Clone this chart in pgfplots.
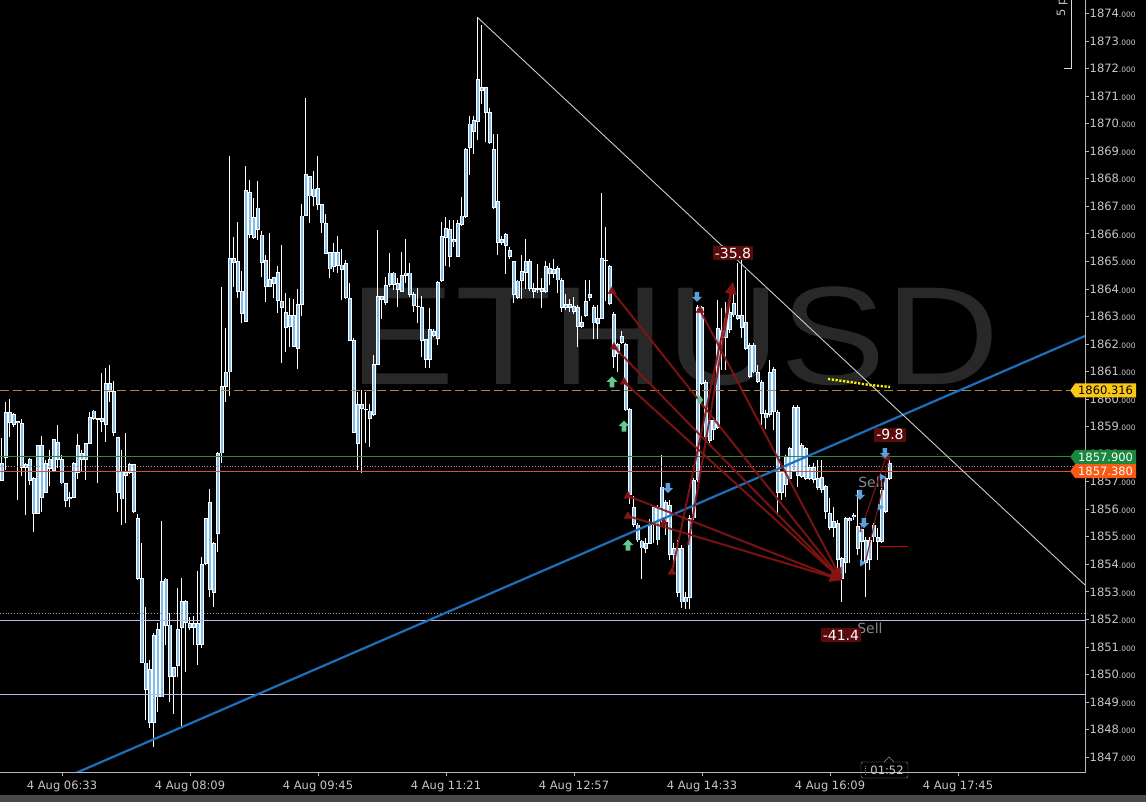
\documentclass[border=0pt]{standalone}
\usepackage{pgfplots}
\pgfplotsset{compat=1.18}
\usepackage{pgfplotstable}
\usepackage{fontspec}
\setmainfont{DejaVu Sans}
\newfontfamily\wmfont{Liberation Sans}
\usetikzlibrary{shapes.symbols,arrows.meta}

\definecolor{txt}{RGB}{200,200,200}
\definecolor{axl}{RGB}{185,185,185}
\definecolor{candle}{RGB}{130,190,235}
\definecolor{wm}{RGB}{40,40,40}
\definecolor{gold}{RGB}{175,135,55}
\definecolor{lgreen}{RGB}{40,140,60}
\definecolor{lred}{RGB}{215,85,55}
\definecolor{lav}{RGB}{190,185,225}
\definecolor{trend}{RGB}{30,112,188}
\definecolor{trade}{RGB}{135,20,20}
\definecolor{lblred}{RGB}{90,10,10}
\definecolor{sigup}{RGB}{100,200,140}
\definecolor{sigdn}{RGB}{90,160,220}
\definecolor{tagyel}{RGB}{250,200,20}
\definecolor{taggrn}{RGB}{25,135,60}
\definecolor{tagorg}{RGB}{250,90,20}
\definecolor{sellgray}{RGB}{135,135,140}
\definecolor{band}{RGB}{72,72,72}

\newcommand{\ticfont}{\fontsize{11.5}{13}\selectfont}
\newcommand{\lblfont}{\fontsize{14}{16}\selectfont}

% MT-style signal arrow (pointing up)
\pgfdeclareplotmark{arrup}{%
  \pgfpathmoveto{\pgfpoint{0pt}{\pgfplotmarksize}}%
  \pgfpathlineto{\pgfpoint{\pgfplotmarksize}{0pt}}%
  \pgfpathlineto{\pgfpoint{0.45\pgfplotmarksize}{0pt}}%
  \pgfpathlineto{\pgfpoint{0.45\pgfplotmarksize}{-\pgfplotmarksize}}%
  \pgfpathlineto{\pgfpoint{-0.45\pgfplotmarksize}{-\pgfplotmarksize}}%
  \pgfpathlineto{\pgfpoint{-0.45\pgfplotmarksize}{0pt}}%
  \pgfpathlineto{\pgfpoint{-\pgfplotmarksize}{0pt}}%
  \pgfpathclose\pgfusepathqfill}

\pgfplotsset{
  bar part/.style={only marks, mark=*, mark size=0pt, mark options={draw=none, fill=none}, forget plot,
    error bars/.cd, y dir=plus, y explicit, error mark=none},
  tradeline/.style={trade, opacity=0.9, line width=2pt, mark=none, solid,
    -{Triangle[length=12pt,width=11pt]}},
}

% 3-minute bars: x = bar number (0 = 06:33), hi lo, body top, body bottom
\pgfplotstableread{
x hi lo bt bb
-15 1858.59 1857.03 1857.68 1857.03
-14 1859.89 1857.42 1859.53 1857.86
-13 1860.00 1858.62 1859.53 1859.13
-12 1859.49 1858.99 1859.46 1859.09
-11 1859.20 1856.33 1859.20 1859.13
-10 1859.28 1857.21 1859.13 1857.53
-9 1857.68 1855.79 1857.64 1857.53
-8 1857.86 1856.88 1857.82 1857.03
-7 1857.17 1855.17 1857.13 1855.86
-6 1858.33 1855.86 1858.33 1855.86
-5 1858.66 1855.90 1858.30 1856.44
-4 1857.79 1856.59 1857.68 1856.59
-3 1858.15 1856.84 1857.82 1857.46
-2 1858.55 1857.42 1858.55 1857.42
-1 1859.06 1857.50 1858.44 1857.82
0 1857.97 1856.92 1857.82 1856.95
1 1856.95 1856.08 1856.95 1856.33
2 1856.62 1856.08 1856.44 1856.37
3 1857.71 1856.41 1857.68 1856.44
4 1858.73 1857.10 1858.33 1857.32
5 1858.15 1857.35 1858.04 1857.82
6 1858.40 1857.06 1858.40 1857.82
7 1859.53 1858.40 1859.35 1858.40
8 1859.60 1859.24 1859.57 1859.28
9 1859.31 1856.95 1859.28 1859.26
10 1860.95 1858.80 1859.28 1859.17
11 1861.13 1858.44 1860.58 1859.06
12 1861.24 1859.89 1860.58 1860.26
13 1860.66 1858.66 1860.26 1858.77
14 1858.62 1855.90 1858.59 1856.62
15 1858.15 1855.43 1857.39 1856.37
16 1858.77 1855.50 1857.35 1857.21
17 1857.68 1857.28 1857.61 1857.32
18 1857.61 1855.86 1857.61 1855.90
19 1855.83 1853.43 1855.68 1853.50
20 1854.77 1850.42 1853.50 1850.42
21 1852.45 1848.35 1850.42 1849.47
22 1850.53 1848.06 1850.20 1848.24
23 1851.51 1847.37 1851.43 1848.24
24 1851.87 1848.64 1851.65 1849.18
25 1855.57 1849.18 1853.39 1849.18
26 1853.50 1851.07 1853.47 1851.76
27 1852.23 1849.00 1851.80 1849.91
28 1850.27 1848.56 1850.27 1849.91
29 1853.14 1849.91 1851.65 1850.34
30 1853.50 1848.09 1852.67 1851.69
31 1852.70 1850.09 1852.67 1851.87
32 1852.09 1851.61 1851.87 1851.69
33 1852.12 1851.07 1851.87 1851.69
34 1853.76 1850.34 1851.87 1851.07
35 1854.27 1850.96 1854.01 1851.07
36 1855.68 1853.98 1855.65 1854.01
37 1856.73 1852.81 1856.23 1853.07
38 1854.81 1852.45 1854.77 1852.96
39 1858.08 1854.45 1858.04 1855.10
40 1864.07 1857.68 1860.47 1858.04
41 1862.58 1859.89 1860.95 1860.44
42 1868.83 1860.11 1865.12 1860.98
43 1865.88 1864.07 1865.12 1864.94
44 1866.43 1863.67 1864.98 1863.89
45 1864.65 1862.76 1863.92 1863.12
46 1868.46 1862.80 1867.59 1862.83
47 1867.95 1865.85 1867.52 1865.99
48 1867.30 1865.81 1866.61 1865.85
49 1867.92 1865.78 1866.94 1866.14
50 1866.10 1864.43 1865.96 1864.94
51 1865.23 1863.52 1865.05 1864.07
52 1866.03 1864.07 1864.36 1864.07
53 1864.43 1863.67 1864.43 1864.21
54 1864.83 1863.12 1864.61 1863.56
55 1865.59 1861.31 1863.56 1863.31
56 1863.85 1861.71 1863.16 1862.58
57 1863.67 1861.89 1863.05 1862.62
58 1863.63 1861.89 1863.05 1861.89
59 1864.00 1861.09 1863.45 1861.82
60 1867.08 1863.02 1866.65 1863.42
61 1870.93 1866.65 1868.14 1866.65
62 1868.10 1866.39 1868.10 1867.37
63 1868.28 1867.01 1867.63 1867.34
64 1868.83 1866.86 1867.66 1867.05
65 1867.05 1866.03 1867.05 1866.39
66 1866.72 1865.30 1866.39 1865.30
67 1865.34 1864.40 1865.34 1864.72
68 1865.67 1864.61 1865.34 1864.80
69 1865.92 1864.58 1865.34 1864.83
70 1865.45 1863.60 1864.87 1864.69
71 1865.05 1863.63 1864.94 1863.67
72 1864.21 1862.14 1863.67 1862.14
73 1862.22 1858.77 1862.14 1858.80
74 1860.26 1857.42 1859.82 1858.40
75 1860.33 1857.32 1859.82 1859.64
76 1860.26 1858.40 1859.64 1859.60
77 1859.82 1858.26 1859.57 1859.28
78 1861.60 1859.38 1861.27 1859.42
79 1866.14 1861.24 1863.71 1861.27
80 1863.74 1862.91 1863.71 1863.63
81 1864.43 1863.42 1864.11 1863.49
82 1865.30 1864.07 1864.58 1864.14
83 1864.61 1863.96 1864.58 1864.14
84 1864.40 1863.34 1864.21 1863.96
85 1865.34 1863.92 1864.50 1863.92
86 1865.81 1864.21 1864.58 1864.50
87 1864.94 1863.71 1864.58 1863.81
88 1863.89 1863.16 1863.81 1863.38
89 1864.03 1862.76 1863.38 1863.34
90 1863.74 1861.53 1863.31 1862.14
91 1862.18 1861.13 1862.18 1861.42
92 1863.31 1861.13 1862.54 1861.42
93 1862.54 1862.25 1862.47 1862.29
94 1864.29 1861.96 1864.25 1862.18
95 1866.43 1864.25 1865.92 1864.29
96 1866.61 1864.83 1866.21 1865.88
97 1866.50 1864.80 1866.17 1865.19
98 1866.50 1865.52 1865.78 1865.70
99 1866.50 1865.16 1866.36 1865.19
100 1867.34 1866.28 1866.65 1866.32
101 1869.12 1866.57 1869.08 1866.61
102 1870.28 1868.14 1869.99 1869.12
103 1870.28 1868.90 1870.10 1869.70
104 1873.87 1869.41 1871.62 1870.06
105 1873.58 1870.71 1871.30 1871.19
106 1871.33 1869.33 1871.30 1870.39
107 1870.57 1869.26 1870.39 1869.30
108 1869.62 1866.90 1869.08 1866.94
109 1869.62 1865.23 1867.19 1865.67
110 1865.92 1865.59 1865.81 1865.67
111 1866.03 1864.54 1865.99 1865.56
112 1865.52 1865.09 1865.41 1865.16
113 1865.01 1863.49 1864.98 1863.78
114 1864.32 1863.63 1864.29 1863.67
115 1865.23 1863.63 1864.65 1864.29
116 1865.81 1864.00 1865.01 1864.61
117 1865.09 1863.92 1865.01 1864.00
118 1864.21 1863.67 1864.00 1863.92
119 1864.90 1863.85 1864.00 1863.96
120 1864.40 1863.31 1864.00 1863.92
121 1865.01 1863.85 1864.80 1863.89
122 1864.94 1864.14 1864.76 1864.54
123 1865.09 1864.40 1864.72 1864.54
124 1864.83 1863.85 1864.76 1864.32
125 1864.40 1863.16 1864.32 1863.31
126 1863.81 1863.23 1863.45 1863.31
127 1863.63 1863.16 1863.45 1863.31
128 1863.71 1863.09 1863.38 1863.16
129 1863.42 1861.89 1863.34 1862.62
130 1863.02 1862.58 1862.80 1862.62
131 1864.32 1862.98 1863.56 1863.02
132 1864.32 1863.56 1863.81 1863.67
133 1863.42 1862.18 1863.34 1862.76
134 1863.42 1862.18 1862.94 1862.73
135 1867.48 1862.91 1865.09 1862.94
136 1866.25 1863.56 1865.05 1865.01
137 1864.87 1863.42 1864.83 1863.45
138 1863.16 1861.13 1863.09 1861.56
139 1862.04 1860.98 1862.00 1861.64
140 1862.47 1862.00 1862.29 1862.04
141 1862.04 1859.57 1862.00 1859.60
142 1859.68 1856.19 1859.64 1856.52
143 1856.48 1855.35 1856.08 1855.43
144 1855.50 1854.81 1855.43 1854.88
145 1854.88 1853.47 1854.85 1854.59
146 1854.96 1854.41 1854.77 1854.56
147 1855.65 1854.74 1855.43 1854.77
148 1856.05 1854.77 1856.05 1855.43
149 1856.15 1854.70 1856.05 1854.88
150 1857.97 1855.54 1856.81 1855.61
151 1856.33 1855.06 1856.23 1855.54
152 1856.33 1854.16 1856.15 1854.34
153 1854.77 1853.90 1854.59 1854.34
154 1854.88 1852.81 1854.59 1852.99
155 1854.70 1852.41 1854.59 1852.63
156 1852.99 1852.38 1852.81 1852.63
157 1855.79 1852.38 1855.68 1852.78
158 1857.13 1855.61 1857.06 1855.68
159 1863.42 1856.99 1863.31 1857.06
160 1863.38 1860.51 1863.31 1860.58
161 1860.69 1858.40 1860.62 1858.62
162 1859.31 1858.40 1859.24 1858.51
163 1859.35 1858.51 1859.24 1858.88
164 1863.60 1858.91 1862.58 1858.95
165 1863.31 1861.06 1862.51 1862.25
166 1863.52 1861.06 1862.94 1862.25
167 1863.60 1862.40 1863.16 1862.51
168 1864.03 1862.98 1863.49 1863.05
169 1864.94 1862.87 1863.05 1862.94
170 1865.05 1862.22 1863.05 1862.58
171 1864.69 1861.78 1862.80 1861.85
172 1862.04 1860.76 1861.96 1860.80
173 1862.04 1860.95 1861.96 1860.98
174 1861.24 1860.58 1860.98 1860.62
175 1860.69 1859.06 1860.62 1859.49
176 1859.60 1858.91 1859.49 1859.31
177 1861.42 1859.35 1860.98 1859.42
178 1861.16 1858.88 1861.06 1859.53
179 1859.60 1855.86 1859.53 1856.59
180 1857.35 1856.33 1857.32 1856.62
181 1857.97 1856.44 1857.90 1856.88
182 1858.26 1857.06 1858.22 1857.13
183 1859.78 1857.42 1859.71 1857.42
184 1859.78 1856.81 1859.71 1857.24
185 1858.40 1857.13 1858.33 1857.17
186 1858.26 1857.06 1858.22 1857.13
187 1857.61 1857.06 1857.53 1857.13
188 1857.68 1856.95 1857.53 1857.06
189 1857.79 1856.70 1857.13 1856.77
190 1857.79 1856.59 1857.17 1856.73
191 1856.88 1855.65 1856.84 1855.90
192 1856.41 1855.25 1855.86 1855.35
193 1856.08 1854.99 1855.54 1855.35
194 1855.61 1853.54 1855.50 1854.16
195 1854.27 1852.63 1854.23 1853.50
196 1855.72 1853.68 1855.65 1854.05
197 1855.72 1854.05 1855.65 1855.57
198 1855.86 1855.61 1855.79 1855.72
199 1856.70 1854.34 1855.39 1854.56
200 1855.50 1854.05 1855.25 1854.81
201 1854.99 1852.81 1854.88 1854.05
202 1854.99 1853.79 1854.88 1854.16
203 1855.50 1854.81 1855.43 1854.99
204 1855.32 1854.16 1854.99 1854.81
205 1856.77 1854.77 1856.70 1854.81
206 1857.17 1855.86 1857.13 1855.90
207 1857.79 1857.06 1857.68 1857.13
}\candles

\begin{document}
\begin{tikzpicture}
\path[use as bounding box] (0pt,0pt) rectangle (1146pt,802pt);
\fill[black] (0pt,0pt) rectangle (1146pt,802pt);
\fill[band] (0pt,0pt) rectangle (1146pt,7pt);
% symbol watermark
\node[text=wm, font=\wmfont\fontsize{140}{140}\selectfont, xscale=1.13, anchor=base, inner sep=0pt] at (675pt,417pt) {ETHUSD};

\begin{axis}[
  at={(0pt,30pt)}, anchor=south west,
  scale only axis, width=1085pt, height=772pt,
  xmin=-15.5, xmax=255.75, ymin=1846.46, ymax=1874.49,
  axis line style={draw=none},
  xtick={0,32,...,224},
  xticklabels={4 Aug 06:33,4 Aug 08:09,4 Aug 09:45,4 Aug 11:21,4 Aug 12:57,4 Aug 14:33,4 Aug 16:09,4 Aug 17:45},
  ytick={1847,1848,...,1874},
  xtick pos=left, ytick pos=right, yticklabel pos=right,
  tick align=outside, major tick length=4pt,
  tick style={axl, line width=0.8pt},
  tick label style={text=txt, font=\ticfont},
  xticklabel style={yshift=-1.5pt},
  yticklabel style={anchor=west, inner xsep=0.5pt},
  yticklabel={\pgfmathprintnumber[fixed,precision=0,1000 sep={},assume math mode=true]{\tick}{\fontsize{7.5}{8}\selectfont.000}},
]
% sell labels behind the bars
\node[text=sellgray, font=\lblfont] at (axis cs:202.25,1856.99) {Sell};
\node[text=sellgray, font=\lblfont] at (axis cs:202,1851.69) {Sell};

% candles: wicks, body outline, body fill
\addplot[bar part, error bar style={draw=white, line width=1pt}]
  table[x=x, y=lo, y error expr=\thisrow{hi}-\thisrow{lo}] {\candles};
\addplot[bar part, error bar style={draw=white, line width=3.4pt}]
  table[x=x, y expr=\thisrow{bb}-0.015, y error expr={max(\thisrow{bt}-\thisrow{bb},0)+0.03}] {\candles};
\addplot[bar part, error bar style={draw=candle, line width=1.4pt}]
  table[x=x, y expr=\thisrow{bb}+0.02, y error expr={max(\thisrow{bt}-\thisrow{bb}-0.04,0)}] {\candles};

% price levels
\addplot[gold, line width=0.9pt, dash pattern=on 9pt off 4pt] coordinates {(-15.5,1860.316) (255.75,1860.316)};
\addplot[lgreen, line width=0.9pt] coordinates {(-15.5,1857.9) (255.75,1857.9)};
\addplot[gray!80, line width=0.8pt, dotted] coordinates {(-15.5,1857.56) (255.75,1857.56)};
\addplot[lred, line width=0.9pt] coordinates {(-15.5,1857.38) (255.75,1857.38)};
\addplot[gray!80, line width=0.8pt, dotted] coordinates {(-15.5,1852.22) (255.75,1852.22)};
\addplot[lav, line width=0.9pt] coordinates {(-15.5,1851.97) (255.75,1851.97)};
\addplot[lav, line width=0.9pt] coordinates {(-15.5,1849.28) (255.75,1849.28)};
\addplot[red!75!black, line width=1pt] coordinates {(204.5,1854.63) (211.5,1854.63)};

% trend lines
\addplot[trend, line width=2.2pt] coordinates {(-15.5,1845.23) (255.75,1862.29)};
\addplot[white!80!black, line width=0.9pt] coordinates {(104,1873.84) (255.75,1853.25)};
\addplot[yellow, line width=2.4pt, dash pattern=on 2.2pt off 1.6pt] coordinates {(191.5,1860.73) (197,1860.62) (202,1860.51) (207,1860.44)};

% trades
\addplot[tradeline] coordinates {(137.5,1863.92) (195,1853.43)};
\addplot[tradeline] coordinates {(138,1861.89) (195,1853.43)};
\addplot[tradeline] coordinates {(140.5,1860.62) (195,1853.43)};
\addplot[tradeline] coordinates {(141.5,1856.48) (195,1853.43)};
\addplot[tradeline] coordinates {(141.5,1855.75) (195,1853.43)};
\addplot[tradeline] coordinates {(159.5,1863.23) (195,1853.43)};
\addplot[tradeline] coordinates {(152.5,1853.72) (167.75,1864.25)};
\addplot[tradeline] coordinates {(156.5,1854.70) (167.75,1864.25)};
\addplot[tradeline, line width=1.2pt, -{Triangle[length=8pt,width=7pt]}] coordinates {(199.5,1855.17) (206.5,1858.08)};
\addplot[tradeline, line width=1.2pt, -] coordinates {(201,1854.16) (207,1857.97)};
\addplot[trade, only marks, mark=triangle*, mark size=4.5pt] coordinates {(137.5,1863.92) (138,1861.89) (140.5,1860.62) (141.5,1856.48) (141.5,1855.75) (159.5,1863.23) (152.5,1853.72) (150.5,1855.5)};

% signals
\addplot[sigup, only marks, mark=arrup, mark size=5.5pt] coordinates {(137.5,1860.62) (140.5,1859.02) (141.5,1854.70)};
\addplot[sigup, only marks, mark=diamond*, mark size=4pt] coordinates {(159.5,1859.97)};
\addplot[sigdn, only marks, mark=arrup, mark size=5pt, mark options={rotate=180}] coordinates {(158.75,1863.71) (151.5,1856.77) (199.5,1856.52) (200.5,1855.50) (205.75,1858.04)};
\addplot[sigdn, only marks, mark=triangle*, mark size=3.5pt, mark options={rotate=-90}] coordinates {(200,1854.05) (204.5,1856.08) (205,1857.17)};

% trade results
\node[fill=lblred, text=white, font=\lblfont, inner sep=2pt] at (axis cs:167.75,1865.30) {-35.8};
\node[fill=lblred, text=white, font=\lblfont, inner sep=2pt] at (axis cs:207,1858.70) {-9.8};
\node[fill=lblred, text=white, font=\lblfont, inner sep=2pt] at (axis cs:194.75,1851.43) {-41.4};

\coordinate (tagY) at (axis cs:252,1860.316);
\coordinate (tagG) at (axis cs:252,1857.9);
\coordinate (tagO) at (axis cs:252,1857.38);
\end{axis}

% axis lines
\draw[axl, line width=0.8pt] (0pt,30pt) -- (1085pt,30pt) -- (1085pt,802pt);

% price tags
\tikzset{tag/.style={signal, signal to=west, signal pointer angle=110, anchor=west, inner xsep=3pt, inner ysep=0.5pt, minimum height=14pt, font=\ticfont}}
\node[tag, fill=tagyel, text=black] at (tagY) {1860.316};
\node[tag, fill=taggrn, text=white] at (tagG) {1857.900};
\node[tag, fill=tagorg, text=white] at (tagO) {1857.380};

% scale marker at the top
\draw[white!85!black, line width=0.8pt] (1064pt,734pt) -- (1071pt,734pt) -- (1071pt,802pt);
\node[rotate=90, anchor=west, text=txt, font=\ticfont, inner sep=0pt] at (1062pt,785pt) {5 p};

% countdown box
\fill[black] (884pt,39pt) -- (889pt,45pt) -- (894pt,39pt) -- cycle;
\draw[gray!85, rounded corners=2pt] (861pt,24pt) rectangle (908pt,40pt);
\fill[black] (884.5pt,39.5pt) rectangle (893.5pt,40.6pt);
\draw[gray!85] (884pt,40pt) -- (889pt,45pt) -- (894pt,40pt);
\draw[gray, line width=1pt, dash pattern=on 1pt off 1pt] (865pt,27pt) -- (865pt,37pt);
\node[text=txt, font=\ticfont, inner sep=0pt] at (887pt,32pt) {01:52};
\end{tikzpicture}
\end{document}
